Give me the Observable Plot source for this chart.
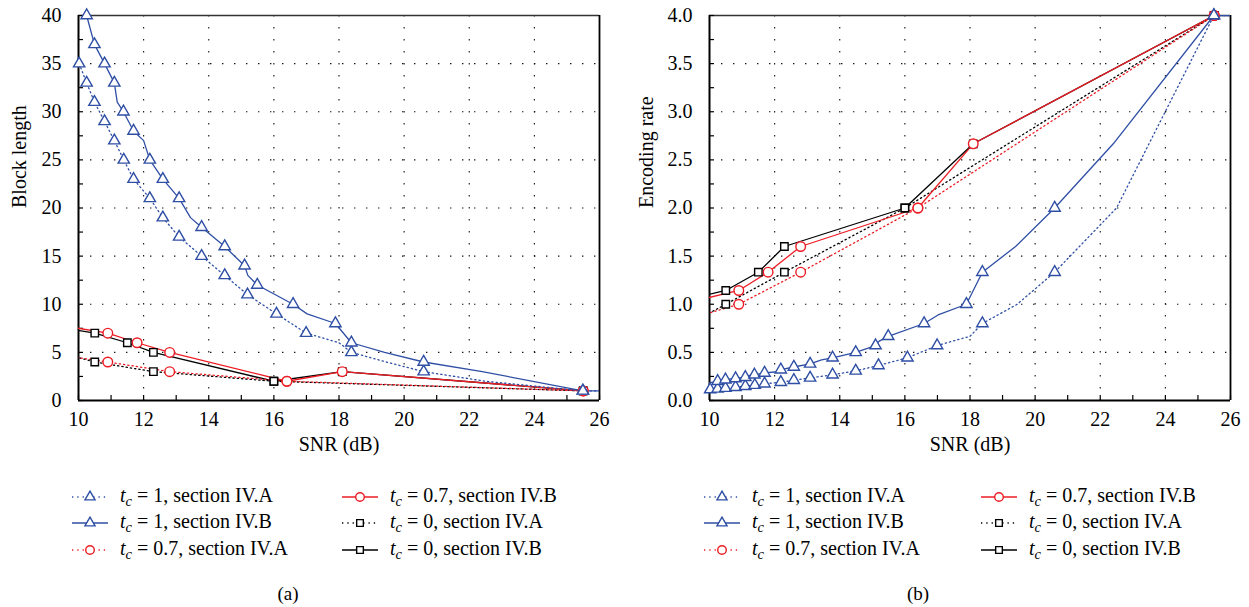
<!DOCTYPE html>
<html>
<head>
<meta charset="utf-8">
<script src="https://cdn.jsdelivr.net/npm/d3@7"></script>
<script src="https://cdn.jsdelivr.net/npm/@observablehq/plot@0.6"></script>
<style>
  body { margin: 0; background: #fff; }
  #page { position: relative; width: 1249px; height: 607px; font-family: "Liberation Serif", serif; color: #000; overflow: hidden; }
  .chart { position: absolute; top: 0; }
  .item { position: absolute; display: flex; align-items: center; height: 24px; font-size: 20px; white-space: nowrap; }
  .item svg { margin-right: 12px; }
  .item sub { font-size: 14.5px; vertical-align: -4px; }
  .caption { position: absolute; font-size: 19px; transform: translateX(-50%); }
</style>
</head>
<body>
<div id="page"></div>
<script>
// ---- axes ----
const snrTicks = [10, 12, 14, 16, 18, 20, 22, 24, 26];
const snrMinor = [11, 13, 15, 17, 19, 21, 23, 25];
const lenTicks = [0, 5, 10, 15, 20, 25, 30, 35, 40];
const lenMinor = [2.5, 7.5, 12.5, 17.5, 22.5, 27.5, 32.5, 37.5];
const rateTicks = [0, 0.5, 1, 1.5, 2, 2.5, 3, 3.5, 4];
const rateMinor = [0.25, 0.75, 1.25, 1.75, 2.25, 2.75, 3.25, 3.75];

// ---- t_c = 1, section IV.A ----
const tc1A_snr  = [10.02, 10.25, 10.49, 10.8, 11.1, 11.39, 11.69, 12.19, 12.59, 13.09, 13.78, 14.49, 15.19, 16.08, 16.99, 18.0, 18.38, 19.45, 20.6, 22.5, 25.49, 26];
const tc1A_len  = [35, 33, 31, 29, 27, 25, 23, 21, 19, 17, 15, 13, 11, 9, 7, 6, 5, 4, 3, 2, 1, 1];
const tc1A_rate = [0.114, 0.121, 0.129, 0.138, 0.148, 0.16, 0.174, 0.19, 0.211, 0.235, 0.267, 0.308, 0.364, 0.444, 0.571, 0.667, 0.8, 1.0, 1.333, 2.0, 4.0, 4.0];
const tc1A_mark = [1, 1, 1, 1, 1, 1, 1, 1, 1, 1, 1, 1, 1, 1, 1, 0, 1, 0, 1, 0, 1, 0];

// ---- t_c = 1, section IV.B ----
const tc1B_snr  = [9.95, 10.25, 10.49, 10.8, 11.1, 11.19, 11.38, 11.69, 12.0, 12.19, 12.59, 13.09, 13.44, 13.78, 14.49, 15.1, 15.2, 15.49, 16.59, 17.02, 17.89, 18.38, 19.4, 20.6, 22.4, 25.49, 26];
const tc1B_len  = [44, 40, 37, 35, 33, 31, 30, 28, 27, 25, 23, 21, 19, 18, 16, 14, 13, 12, 10, 9, 8, 6, 5, 4, 3, 1, 1];
const tc1B_rate = [0.18, 0.2, 0.216, 0.229, 0.242, 0.258, 0.267, 0.286, 0.296, 0.32, 0.348, 0.381, 0.421, 0.444, 0.5, 0.571, 0.615, 0.667, 0.8, 0.889, 1.0, 1.333, 1.6, 2.0, 2.667, 4.0, 4.0];
const tc1B_mark = [0, 1, 1, 1, 1, 0, 1, 1, 0, 1, 1, 1, 0, 1, 1, 1, 0, 1, 1, 0, 1, 1, 0, 1, 0, 1, 0];

// ---- t_c = 0.7, section IV.A ----
const tc07A_snr  = [8.9, 10.9, 12.8, 16.4, 25.5];
const tc07A_len  = [5, 4, 3, 2, 1];
const tc07A_rate = [0.8, 1.0, 1.333, 2.0, 4.0];
const tc07A_mark = [0, 1, 1, 1, 1];

// ---- t_c = 0.7, section IV.B ----
const tc07B_snr  = [9.1, 10.9, 11.8, 12.8, 16.4, 18.1, 25.5];
const tc07B_len  = [8, 7, 6, 5, 2, 3, 1];
const tc07B_rate = [1.0, 1.143, 1.333, 1.6, 2.0, 2.667, 4.0];
const tc07B_mark = [0, 1, 1, 1, 1, 1, 1];

// ---- t_c = 0, section IV.A ----
const tc0A_snr  = [9.4, 10.5, 12.3, 16.0, 25.5];
const tc0A_len  = [5, 4, 3, 2, 1];
const tc0A_rate = [0.8, 1.0, 1.333, 2.0, 4.0];
const tc0A_mark = [0, 1, 1, 1, 1];

// ---- t_c = 0, section IV.B ----
const tc0B_snr  = [8.65, 10.5, 11.5, 12.3, 16.0, 18.1, 25.5];
const tc0B_len  = [8, 7, 6, 5, 2, 3, 1];
const tc0B_rate = [1.0, 1.143, 1.333, 1.6, 2.0, 2.667, 4.0];
const tc0B_mark = [0, 1, 1, 1, 1, 1, 1];

const BLUE = "#2f4fa5", RED = "#ed1c24", BLACK = "#000";
const DOT = "1.3,3";
const FONT = "Liberation Serif, serif";

function rows(snr, len, rate, mark) {
  return snr.map((x, i) => ({snr: x, len: len[i], rate: rate[i], mark: mark[i]}));
}

const series = {
  tc1A:  {tc: "1",   sec: "IV.A", color: BLUE,  dash: DOT,  symbol: "triangle", r: 4.2, data: rows(tc1A_snr, tc1A_len, tc1A_rate, tc1A_mark)},
  tc1B:  {tc: "1",   sec: "IV.B", color: BLUE,  dash: null, symbol: "triangle", r: 4.2, data: rows(tc1B_snr, tc1B_len, tc1B_rate, tc1B_mark)},
  tc07A: {tc: "0.7", sec: "IV.A", color: RED,   dash: DOT,  symbol: "circle",   r: 4.8, data: rows(tc07A_snr, tc07A_len, tc07A_rate, tc07A_mark)},
  tc07B: {tc: "0.7", sec: "IV.B", color: RED,   dash: null, symbol: "circle",   r: 4.8, data: rows(tc07B_snr, tc07B_len, tc07B_rate, tc07B_mark)},
  tc0A:  {tc: "0",   sec: "IV.A", color: BLACK, dash: DOT,  symbol: "square",   r: 4.2, data: rows(tc0A_snr, tc0A_len, tc0A_rate, tc0A_mark)},
  tc0B:  {tc: "0",   sec: "IV.B", color: BLACK, dash: null, symbol: "square",   r: 4.2, data: rows(tc0B_snr, tc0B_len, tc0B_rate, tc0B_mark)}
};
// black below red below blue
const drawOrder = ["tc0A", "tc0B", "tc07A", "tc07B", "tc1A", "tc1B"];
const legendOrder = [["tc1A", "tc1B", "tc07A"], ["tc07B", "tc0A", "tc0B"]];

function chart({key, domain, ticks, minor, format, label, width, marginLeft, marginRight, labelDx}) {
  const [y0, y1] = domain;
  const marks = [
    // dotted grid at interior major ticks
    Plot.ruleX(snrTicks.filter(t => t > 10 && t < 26), {stroke: "#111", strokeWidth: 1.1, strokeDasharray: "1.4,10.6"}),
    Plot.ruleY(ticks.filter(t => t > y0 && t < y1), {stroke: "#111", strokeWidth: 1.1, strokeDasharray: "1.4,10.6"}),
    // frame
    Plot.ruleY([y1], {stroke: "#333", strokeWidth: 1.6}),
    Plot.ruleX([26], {stroke: "#000", strokeWidth: 1.8}),
    Plot.ruleX([10], {stroke: "#000", strokeWidth: 2}),
    Plot.ruleY([y0], {stroke: "#000", strokeWidth: 2}),
    // inward tick marks
    Plot.ruleX(snrTicks.concat(snrMinor), {y1: y0, y2: y0, insetTop: -5, stroke: "#000", strokeWidth: 1.2}),
    Plot.ruleY(ticks.concat(minor), {x1: 10, x2: 10, insetRight: -5, stroke: "#000", strokeWidth: 1.2}),
    // tick labels
    Plot.axisX({ticks: snrTicks, tickSize: 0, tickPadding: 11, fontSize: 20, label: null}),
    Plot.axisY({ticks, tickSize: 0, tickPadding: 17, tickFormat: format, fontSize: 20, label: null}),
    // axis titles
    Plot.text(["SNR (dB)"], {text: d => d, frameAnchor: "bottom", dy: 50, fontSize: 20}),
    Plot.text([label], {text: d => d, frameAnchor: "left", rotate: -90, dx: labelDx, fontSize: 20})
  ];
  for (const id of drawOrder) {
    const s = series[id];
    marks.push(Plot.line(s.data, {x: "snr", y: key, stroke: s.color, strokeWidth: 1.3, strokeDasharray: s.dash, clip: true}));
  }
  for (const id of drawOrder) {
    const s = series[id];
    marks.push(Plot.dot(s.data.filter(d => d.mark), {x: "snr", y: key, symbol: s.symbol, r: s.r, stroke: s.color, strokeWidth: 1.4, fill: "white"}));
  }
  return Plot.plot({
    width, height: 460,
    marginLeft, marginRight, marginTop: 15, marginBottom: 60,
    x: {domain: [10, 26]},
    y: {domain},
    style: {fontFamily: FONT, fontSize: "20px", background: "white", color: "black", overflow: "visible"},
    marks
  });
}

const page = document.getElementById("page");

function place(el, left) {
  el.classList.add("chart");
  el.style.left = left + "px";
  page.appendChild(el);
}

place(chart({key: "len", domain: [0, 40], ticks: lenTicks, minor: lenMinor, format: d3.format("d"),
  label: "Block length", width: 620, marginLeft: 78, marginRight: 21, labelDx: -59}), 0);
place(chart({key: "rate", domain: [0, 4], ticks: rateTicks, minor: rateMinor, format: d3.format(".1f"),
  label: "Encoding rate", width: 629, marginLeft: 89, marginRight: 19, labelDx: -63}), 620);

// legend swatch: line segment with the series marker in the middle
function swatch(s) {
  const ns = "http://www.w3.org/2000/svg";
  const svg = document.createElementNS(ns, "svg");
  svg.setAttribute("width", 36); svg.setAttribute("height", 14);
  const line = document.createElementNS(ns, "line");
  line.setAttribute("x1", 0); line.setAttribute("x2", 36);
  line.setAttribute("y1", 7); line.setAttribute("y2", 7);
  line.setAttribute("stroke", s.color); line.setAttribute("stroke-width", 1.3);
  if (s.dash) line.setAttribute("stroke-dasharray", "1.3,4");
  svg.appendChild(line);
  const sym = {triangle: d3.symbolTriangle, circle: d3.symbolCircle, square: d3.symbolSquare}[s.symbol];
  const p = document.createElementNS(ns, "path");
  p.setAttribute("d", d3.symbol(sym, Math.PI * s.r * s.r * 0.8)());
  p.setAttribute("transform", "translate(18,7)");
  p.setAttribute("fill", "white"); p.setAttribute("stroke", s.color); p.setAttribute("stroke-width", 1.4);
  svg.appendChild(p);
  return svg;
}

function legend(colX, rowY) {
  legendOrder.forEach((col, ci) => {
    col.forEach((id, ri) => {
      const s = series[id];
      const div = document.createElement("div");
      div.className = "item";
      div.style.left = colX[ci] + "px";
      div.style.top = (rowY[ri] - 12) + "px";
      div.appendChild(swatch(s));
      const span = document.createElement("span");
      span.innerHTML = `<i>t</i><sub><i>c</i></sub> = ${s.tc}, section ${s.sec}`;
      div.appendChild(span);
      page.appendChild(div);
    });
  });
}
legend([72, 342], [497, 523, 550]);
legend([704, 981], [497, 523, 550]);

function caption(text, x) {
  const div = document.createElement("div");
  div.className = "caption";
  div.textContent = text;
  div.style.left = x + "px";
  div.style.top = "583px";
  page.appendChild(div);
}
caption("(a)", 288);
caption("(b)", 918);
</script>
</body>
</html>
